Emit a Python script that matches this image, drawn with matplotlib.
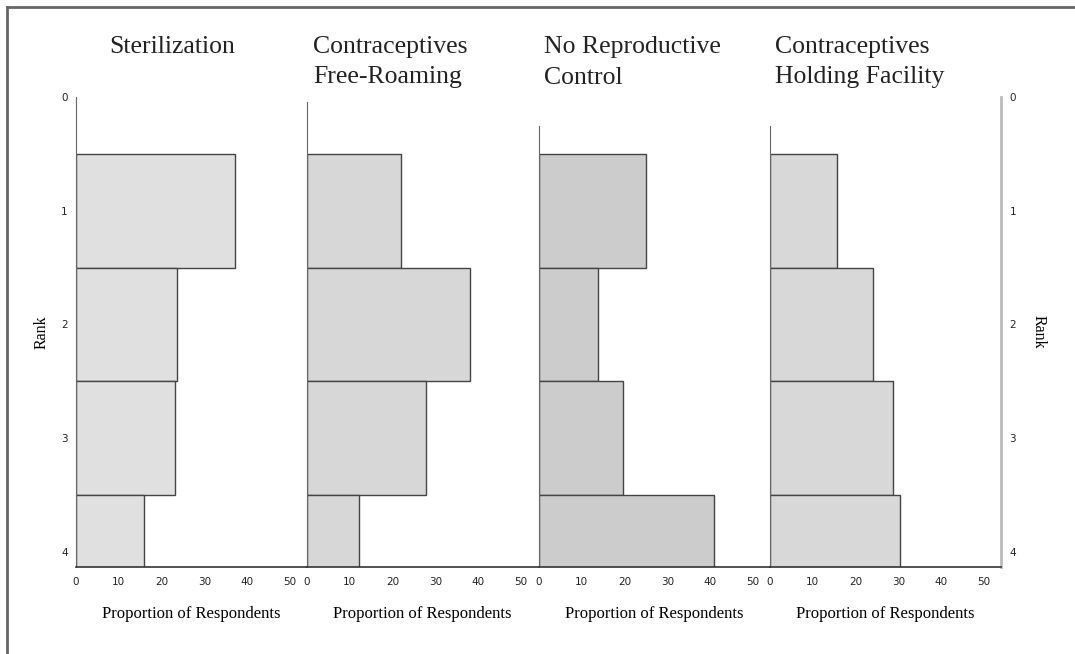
import numpy as np
import matplotlib
matplotlib.use('Agg')
import matplotlib.pyplot as plt
from matplotlib.lines import Line2D

# proportion of respondents (%) giving each rank, per option
titles = ['Sterilization', 'Contraceptives\nFree-Roaming',
          'No Reproductive\nControl', 'Contraceptives\nHolding Facility']
ranks = [1, 2, 3, 4]
sterilization = [37.1, 23.6, 23.1, 15.9]
contra_free = [22.0, 38.1, 27.8, 12.1]
no_control = [25.1, 13.8, 19.7, 41.0]
contra_holding = [15.6, 24.0, 28.8, 30.5]
series = [sterilization, contra_free, no_control, contra_holding]
colors = ['#e0e0e0', '#d7d7d7', '#cccccc', '#d8d8d8']
spine_top = [0.0, 0.045, 0.255, 0.255]
xticks = [0, 10, 20, 30, 40, 50]

W, H = 1075, 654
fig = plt.figure(figsize=(W / 100, H / 100), dpi=100)

serif = 'Liberation Serif'
tickfont = dict(family='DejaVu Sans', size=7.5)

y_top, y_bot = 97, 567
ymax = 4 * (y_bot - y_top) / (552 - y_top)
lefts = [76, 307, 539, 770]
title_x = [109, 313, 544, 775]
pw = 231

for i, vals in enumerate(series):
    ax = fig.add_axes([lefts[i] / W, 1 - y_bot / H, pw / W, (y_bot - y_top) / H])
    ax.barh(ranks, vals, height=1.0, color=colors[i], edgecolor='#444444', linewidth=1.0)
    ax.set_xlim(0, 54)
    ax.set_ylim(ymax, 0)
    ax.set_xticks(xticks)
    ax.set_xticklabels([str(t) for t in xticks], **tickfont, color='#222222')
    ax.tick_params(axis='x', length=0, pad=7)
    ax.tick_params(axis='y', length=0, pad=6)
    ax.set_yticks([0, 1, 2, 3, 4])
    ax.set_yticklabels(['0', '1', '2', '3', '4'], **tickfont, color='#222222')
    for s in ['top', 'right']:
        ax.spines[s].set_visible(False)
    ax.spines['left'].set_color('#666666')
    ax.spines['left'].set_bounds(spine_top[i], ymax)
    ax.spines['bottom'].set_color('#333333')
    ax.spines['bottom'].set_linewidth(1.2)
    if i == 0:
        ax.set_ylabel('Rank', family=serif, size=11.5, labelpad=8)
    elif i == 3:
        ax.yaxis.tick_right()
        ax.yaxis.set_label_position('right')
        ax.spines['right'].set_visible(True)
        ax.spines['right'].set_color('#bbbbbb')
        ax.spines['right'].set_linewidth(2)
        ax.set_ylabel('Rank', family=serif, size=11.5, rotation=270, labelpad=22)
        ax.tick_params(axis='y', pad=6)
    else:
        ax.set_yticklabels([])
    ax.text(27, -0.1, 'Proportion of Respondents', transform=ax.get_xaxis_transform(),
            ha='center', va='center', family=serif, size=12)
    ax.patch.set_alpha(0)
    fig.text(title_x[i] / W, 1 - 36 / H, titles[i], ha='left', va='top',
             family=serif, size=18.5, linespacing=1.5, color='#222222')

# outer frame (top and left edges visible)
fig.add_artist(Line2D([7 / W, 1.0], [1 - 7 / H, 1 - 7 / H], color='#666666', lw=2))
fig.add_artist(Line2D([7 / W, 7 / W], [0, 1 - 7 / H], color='#666666', lw=2))

fig.savefig('out.png', dpi=100)
